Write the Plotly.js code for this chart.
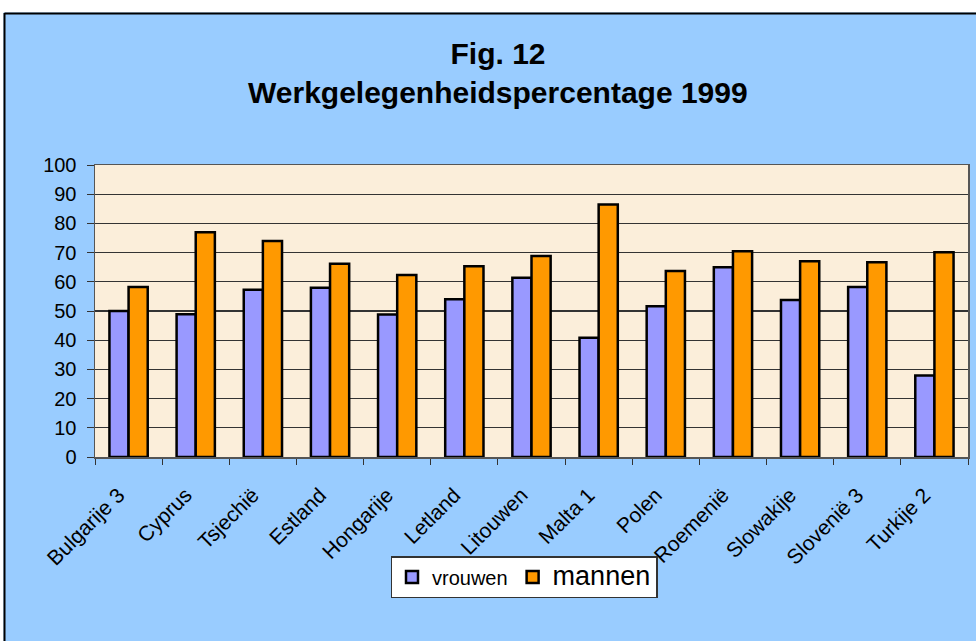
<!DOCTYPE html>
<html>
<head>
<meta charset="utf-8">
<script src="https://cdn.plot.ly/plotly-3.0.1.min.js"></script>
<style>html,body{margin:0;padding:0;background:#fff;}#chart{width:976px;height:641px;}</style>
</head>
<body>
<div id="chart"></div>
<script>
const countries = ["Bulgarije 3","Cyprus","Tsjechië","Estland","Hongarije","Letland","Litouwen","Malta 1","Polen","Roemenië","Slowakije","Slovenië 3","Turkije 2"];
const vrouwen = [50.0, 48.9, 57.3, 58.0, 48.8, 54.0, 61.4, 40.8, 51.6, 65.0, 53.8, 58.2, 27.9];
const mannen  = [58.2, 77.0, 74.0, 66.2, 62.3, 65.3, 68.8, 86.5, 63.7, 70.5, 67.0, 66.7, 70.1];
const yTicks = [0,10,20,30,40,50,60,70,80,90,100];

// plot area geometry (px) used for paper-coordinate conversions
const L = 95, R = 968, T = 165, B = 457;
const px = x => (x - L) / (R - L);
const py = y => (B - y) / (B - T);

const traces = [
  {type:'bar', name:'vrouwen', x:countries, y:vrouwen,
   marker:{color:'#9999FF', line:{color:'#000', width:2.5}}},
  {type:'bar', name:'<span style="font-size:27px">mannen</span>', x:countries, y:mannen,
   marker:{color:'#FF9900', line:{color:'#000', width:2.5}}}
];

const layout = {
  width:976, height:641,
  margin:{l:L, r:976-R, t:T, b:641-B, pad:0},
  paper_bgcolor:'#99CCFF',
  plot_bgcolor:'#FBEEDA',
  font:{family:'Arial, "Liberation Sans", sans-serif', color:'#000'},
  title:{text:'<b>Fig. 12</b>', font:{size:30, color:'#000'},
         x:px(498), xref:'paper', xanchor:'center', y:1-53/641, yref:'container', yanchor:'middle'},
  annotations:[{text:'<b>Werkgelegenheidspercentage 1999</b>', showarrow:false,
                xref:'paper', yref:'paper', x:px(498), y:py(92), xanchor:'center', yanchor:'middle',
                font:{size:30, color:'#000'}}],
  barmode:'group', bargap:0.43, bargroupgap:0,
  showlegend:true,
  legend:{orientation:'h', x:px(524), y:py(556), xanchor:'center', yanchor:'top',
          bgcolor:'#fff', bordercolor:'#333', borderwidth:1.5, font:{size:20, color:'#000'},
          traceorder:'normal', itemwidth:30},
  xaxis:{type:'category', tickangle:-45, tickfont:{size:21}, ticks:'outside', ticklen:6, tickcolor:'#333',
         tickson:'boundaries', ticklabelstandoff:16, ticklabelshift:-10,
         showline:true, linecolor:'#555', linewidth:1.5, mirror:true,
         showgrid:false, fixedrange:true},
  yaxis:{range:[0,100], tickvals:yTicks, ticktext:yTicks.map(String), tickfont:{size:20},
         ticks:'outside', ticklen:7, tickcolor:'#333', ticklabelstandoff:6,
         showline:true, linecolor:'#555', linewidth:1.5, mirror:true,
         showgrid:true, gridcolor:'#333', gridwidth:1.4, zeroline:false, fixedrange:true},
  shapes:[
    {type:'rect', xref:'paper', yref:'paper', x0:px(-5), x1:px(990), y0:py(12.5), y1:py(-5),
     fillcolor:'#fff', line:{width:0}, layer:'below'},
    {type:'rect', xref:'paper', yref:'paper', x0:px(-5), x1:px(3.5), y0:py(660), y1:py(-5),
     fillcolor:'#fff', line:{width:0}, layer:'below'},
    {type:'line', xref:'paper', yref:'paper', x0:px(4.5), x1:px(990), y0:py(13.5), y1:py(13.5),
     line:{color:'#000', width:2}},
    {type:'line', xref:'paper', yref:'paper', x0:px(4.5), x1:px(4.5), y0:py(13), y1:py(660),
     line:{color:'#000', width:2}}
  ]
};

Plotly.newPlot('chart', traces, layout, {displayModeBar:false, staticPlot:true});
</script>
</body>
</html>
